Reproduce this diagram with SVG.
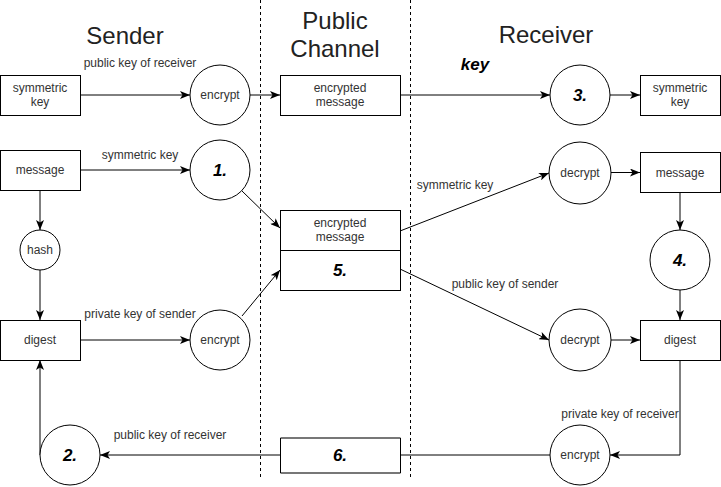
<svg xmlns="http://www.w3.org/2000/svg" width="721" height="487" viewBox="0 0 721 487">
<style>
.box{fill:#fff;stroke:#000;stroke-width:1}
.circ{fill:#fff;stroke:#000;stroke-width:1}
.t{font-family:"Liberation Sans",Arial,sans-serif;font-size:12px;fill:#333;text-anchor:middle}
.n{font-family:"Liberation Sans",Arial,sans-serif;font-size:17px;font-weight:bold;font-style:italic;fill:#000;text-anchor:middle}
.h{font-family:"Liberation Sans",Arial,sans-serif;font-size:24px;fill:#222;text-anchor:middle}
.c{fill:none;stroke:#000;stroke-width:1}
.d{fill:none;stroke:#000;stroke-width:1;stroke-dasharray:3 3}
</style>
<defs>
<marker id="a" viewBox="0 0 10 8" refX="10" refY="4" markerWidth="10" markerHeight="8" markerUnits="userSpaceOnUse" orient="auto">
<path d="M0,0 L10,4 L0,8 L2.5,4 z" fill="#000"/>
</marker>
</defs>
<g id="dividers">
<line class="d" x1="260.5" y1="0" x2="260.5" y2="480"/>
<line class="d" x1="410.5" y1="0" x2="410.5" y2="480"/>
</g>
<g id="headers">
<text class="h" x="125" y="44">Sender</text>
<text class="h" x="335" y="29">Public</text>
<text class="h" x="335" y="57">Channel</text>
<text class="h" x="546" y="43">Receiver</text>
</g>
<g id="connectors">
<path class="c" d="M80,95 H190" marker-end="url(#a)"/>
<path class="c" d="M250,95 H280" marker-end="url(#a)"/>
<path class="c" d="M400,95 H550" marker-end="url(#a)"/>
<path class="c" d="M600,95 H640" marker-end="url(#a)"/>
<path class="c" d="M80,170 H190" marker-end="url(#a)"/>
<path class="c" d="M242,191 L280,228" marker-end="url(#a)"/>
<path class="c" d="M40,190 V230" marker-end="url(#a)"/>
<path class="c" d="M40,270 V320" marker-end="url(#a)"/>
<path class="c" d="M80,340 H190" marker-end="url(#a)"/>
<path class="c" d="M242,316 L280,270" marker-end="url(#a)"/>
<path class="c" d="M40,455 V360" marker-end="url(#a)"/>
<path class="c" d="M550,455 H400"/>
<path class="c" d="M280,455 H100" marker-end="url(#a)"/>
<path class="c" d="M400,231 L549,173" marker-end="url(#a)"/>
<path class="c" d="M600,172.5 H640" stroke-width="1.5" marker-end="url(#a)"/>
<path class="c" d="M680,193 V230" marker-end="url(#a)"/>
<path class="c" d="M680,290 V320" marker-end="url(#a)"/>
<path class="c" d="M400,269 L549,340" marker-end="url(#a)"/>
<path class="c" d="M611,340 H640" marker-end="url(#a)"/>
<path class="c" d="M680,360 V455 H610" marker-end="url(#a)"/>
</g>
<g id="labels">
<text class="t" x="140" y="67">public key of receiver</text>
<text x="475" y="70" font-family="Liberation Sans, Arial, sans-serif" font-size="17" font-weight="bold" font-style="italic" text-anchor="middle" fill="#000">key</text>
<text class="t" x="140" y="159">symmetric key</text>
<text class="t" x="455" y="189">symmetric key</text>
<text class="t" x="140" y="318">private key of sender</text>
<text class="t" x="170" y="439">public key of receiver</text>
<text class="t" x="505" y="288">public key of sender</text>
<text class="t" x="620" y="418">private key of receiver</text>
</g>
<g id="sender-symkey">
<rect class="box" x="0.5" y="75.5" width="80" height="40"/>
<text class="t" x="40" y="92">symmetric</text>
<text class="t" x="40" y="106">key</text>
</g>
<g id="sender-encrypt1">
<circle class="circ" cx="220" cy="95" r="30"/>
<text class="t" x="220" y="99">encrypt</text>
</g>
<g id="channel-encmsg1">
<rect class="box" x="280.5" y="75.5" width="120" height="40"/>
<text class="t" x="340" y="92">encrypted</text>
<text class="t" x="340" y="106">message</text>
</g>
<g id="node3">
<circle class="circ" cx="580" cy="95" r="30"/>
<text class="n" x="580" y="101">3.</text>
</g>
<g id="receiver-symkey">
<rect class="box" x="640.5" y="75.5" width="80" height="40"/>
<text class="t" x="680" y="92">symmetric</text>
<text class="t" x="680" y="106">key</text>
</g>
<g id="sender-message">
<rect class="box" x="0.5" y="150.5" width="80" height="40"/>
<text class="t" x="40" y="174">message</text>
</g>
<g id="node1">
<circle class="circ" cx="220" cy="170" r="30"/>
<text class="n" x="220" y="176">1.</text>
</g>
<g id="hash">
<circle class="circ" cx="40" cy="250" r="20"/>
<text class="t" x="40" y="254">hash</text>
</g>
<g id="channel-encmsg2">
<rect class="box" x="280.5" y="210.5" width="120" height="80"/>
<line class="c" x1="280.5" y1="250.5" x2="400.5" y2="250.5"/>
<text class="t" x="340" y="227">encrypted</text>
<text class="t" x="340" y="241">message</text>
<text class="n" x="340" y="276">5.</text>
</g>
<g id="receiver-decrypt1">
<circle class="circ" cx="580" cy="173" r="31"/>
<text class="t" x="580" y="177">decrypt</text>
</g>
<g id="receiver-message">
<rect class="box" x="640.5" y="152.5" width="80" height="40"/>
<text class="t" x="680" y="177">message</text>
</g>
<g id="node4">
<circle class="circ" cx="680" cy="260" r="30"/>
<text class="n" x="680" y="266">4.</text>
</g>
<g id="sender-digest">
<rect class="box" x="0.5" y="320.5" width="80" height="40"/>
<text class="t" x="40" y="344">digest</text>
</g>
<g id="sender-encrypt2">
<circle class="circ" cx="220" cy="340" r="30"/>
<text class="t" x="220" y="344">encrypt</text>
</g>
<g id="receiver-decrypt2">
<circle class="circ" cx="580" cy="340" r="31"/>
<text class="t" x="580" y="344">decrypt</text>
</g>
<g id="receiver-digest">
<rect class="box" x="640.5" y="320.5" width="80" height="40"/>
<text class="t" x="680" y="344">digest</text>
</g>
<g id="node2">
<circle class="circ" cx="70" cy="455" r="30"/>
<text class="n" x="70" y="461">2.</text>
</g>
<g id="node6">
<rect x="280.5" y="438" width="120" height="35" fill="#fff" stroke="none"/>
<line x1="280.5" y1="438" x2="400.5" y2="438" stroke="#777" stroke-width="2"/>
<line x1="280.5" y1="473" x2="400.5" y2="473" stroke="#777" stroke-width="2"/>
<line x1="280.5" y1="438" x2="280.5" y2="473" stroke="#000"/>
<line x1="400.5" y1="438" x2="400.5" y2="473" stroke="#000"/>
<text class="n" x="340" y="461">6.</text>
</g>
<g id="receiver-encrypt">
<circle class="circ" cx="580" cy="455" r="30"/>
<text class="t" x="580" y="459">encrypt</text>
</g>
</svg>
